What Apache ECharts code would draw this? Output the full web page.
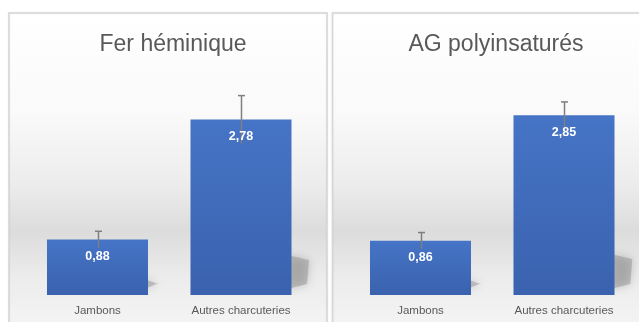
<!DOCTYPE html>
<html>
<head>
<meta charset="utf-8">
<script src="https://cdn.jsdelivr.net/npm/echarts@6/dist/echarts.min.js"></script>
<style>
  html, body { margin: 0; padding: 0; background: #ffffff; }
  #chart { width: 639px; height: 322px; }
</style>
</head>
<body>
<div id="chart"></div>
<script>
// Two panels: mean values per product group, with error bars
const categories = ['Jambons', 'Autres charcuteries'];
const ferValues = [0.88, 2.78];
const ferErrors = [0.13, 0.38];
const agpiValues = [0.86, 2.85];
const agpiErrors = [0.13, 0.21];
const panelTitles = ['Fer héminique', 'AG polyinsaturés'];

const FONT = '"Liberation Sans", Arial, sans-serif';
const TEXT_GREY = '#595959';

const chart = echarts.init(document.getElementById('chart'), null, { renderer: 'canvas' });

// panel frames with the soft grey vertical gradient
function panelRect(x, y, w, h) {
  return {
    type: 'rect',
    z: -10,
    silent: true,
    shape: { x: x, y: y, width: w, height: h },
    style: {
      fill: new echarts.graphic.LinearGradient(0, 0, 0, 1, [
        { offset: 0, color: '#ffffff' },
        { offset: 0.3, color: '#fafafa' },
        { offset: 0.52, color: '#ececec' },
        { offset: 0.66, color: '#dcdcdc' },
        { offset: 0.8, color: '#ececec' },
        { offset: 1, color: '#f7f7f7' }
      ]),
      stroke: '#d6d6d6',
      lineWidth: 1.5,
      shadowColor: 'rgba(0,0,0,0.08)',
      shadowBlur: 2
    }
  };
}

const barColor = new echarts.graphic.LinearGradient(0, 0, 0, 1, [
  { offset: 0, color: '#4674c6' },
  { offset: 1, color: '#3a62ae' }
]);

// soft cast shadow behind the lower right side of each bar
function shadowRender(params, api) {
  const top = api.coord([api.value(0), api.value(1)]);
  const base = api.coord([api.value(0), 0]);
  const half = api.size([1, 0])[0] * 0.352;
  const xr = top[0] + half;
  const yb = base[1];
  const h = yb - top[1];
  const hs = 0.2 * h + 5;
  const ws = 0.06 * h + 7;
  return {
    type: 'polygon',
    shape: {
      points: [
        [xr - 4, yb - hs],
        [xr + ws, yb - hs + 5],
        [xr + ws - 2, yb - 11],
        [xr - 4, yb - 6]
      ]
    },
    style: {
      fill: 'rgba(140,140,140,0.45)',
      shadowColor: 'rgba(120,120,120,0.85)',
      shadowBlur: 10
    }
  };
}

// error bar (line + top cap) and the value label on top of it
function errorRender(params, api) {
  const v = api.value(1);
  const e = api.value(2);
  const hi = api.coord([api.value(0), v + e]);
  const lo = api.coord([api.value(0), v - e]);
  const top = api.coord([api.value(0), v]);
  const x = Math.round(hi[0]) + 0.5;
  const lineStyle = { stroke: '#7f7f7f', lineWidth: 1.5 };
  return {
    type: 'group',
    children: [
      { type: 'line', shape: { x1: x, y1: hi[1], x2: x, y2: lo[1] }, style: lineStyle },
      { type: 'line', shape: { x1: x - 3.5, y1: hi[1], x2: x + 3.5, y2: hi[1] }, style: lineStyle },
      {
        type: 'text',
        style: {
          text: v.toFixed(2).replace('.', ','),
          x: top[0],
          y: top[1] + 17,
          fill: '#ffffff',
          font: 'bold 12.5px ' + FONT,
          align: 'center',
          verticalAlign: 'middle'
        }
      }
    ]
  };
}

function seriesFor(idx, values, errors) {
  const errData = values.map((v, i) => [i, v, errors[i]]);
  return [
    {
      type: 'custom',
      xAxisIndex: idx, yAxisIndex: idx,
      z: 1,
      silent: true,
      renderItem: shadowRender,
      encode: { x: 0, y: 1 },
      data: values.map((v, i) => [i, v])
    },
    {
      type: 'bar',
      xAxisIndex: idx, yAxisIndex: idx,
      z: 2,
      barWidth: '70.4%',
      itemStyle: { color: barColor },
      data: values
    },
    {
      type: 'custom',
      xAxisIndex: idx, yAxisIndex: idx,
      z: 3,
      silent: true,
      renderItem: errorRender,
      encode: { x: 0, y: 1 },
      data: errData
    }
  ];
}

const xAxisBase = {
  type: 'category',
  data: categories,
  axisLine: { show: false },
  axisTick: { show: false },
  axisLabel: { color: TEXT_GREY, fontSize: 11.5, fontFamily: FONT, margin: 10, interval: 0 }
};
const yAxisBase = {
  type: 'value',
  min: 0,
  max: 4,
  show: false,
  splitLine: { show: false }
};

chart.setOption({
  animation: false,
  backgroundColor: '#ffffff',
  graphic: [
    panelRect(9, 13, 318, 330),
    panelRect(332.5, 13, 320, 330)
  ],
  title: [
    {
      text: panelTitles[0],
      left: 168, top: 28, textAlign: 'center',
      textStyle: { color: TEXT_GREY, fontSize: 23, fontWeight: 'normal', fontFamily: FONT }
    },
    {
      text: panelTitles[1],
      left: 491, top: 28, textAlign: 'center',
      textStyle: { color: TEXT_GREY, fontSize: 23, fontWeight: 'normal', fontFamily: FONT }
    }
  ],
  grid: [
    { left: 25.75, width: 287, top: 42.6, bottom: 27 },
    { left: 348.75, width: 287, top: 42.6, bottom: 27 }
  ],
  xAxis: [
    Object.assign({ gridIndex: 0 }, xAxisBase),
    Object.assign({ gridIndex: 1 }, xAxisBase)
  ],
  yAxis: [
    Object.assign({ gridIndex: 0 }, yAxisBase),
    Object.assign({ gridIndex: 1 }, yAxisBase)
  ],
  series: [].concat(
    seriesFor(0, ferValues, ferErrors),
    seriesFor(1, agpiValues, agpiErrors)
  )
});
</script>
</body>
</html>
